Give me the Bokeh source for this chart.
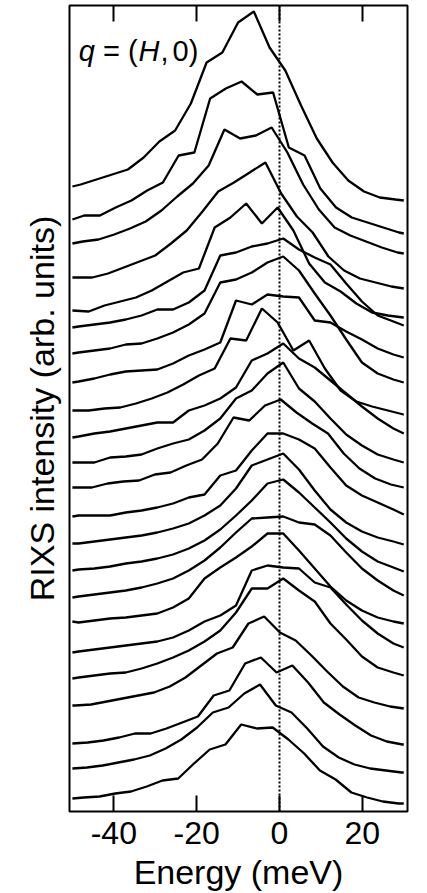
from bokeh.plotting import figure
from bokeh.models import Range1d, FixedTicker, LinearAxis, Span, Label, Title, CustomLabelingPolicy
from bokeh.embed import file_html
from bokeh.resources import INLINE

# Energy loss grid (meV) of the spectra; each spectrum has its own small energy offset.
energy_grid = [-47.5, -43.7, -39.9, -36.1, -32.3, -28.5, -24.7, -20.9, -17.1, -13.3, -9.5,
               -5.7, -1.9, 1.9, 5.7, 9.5, 13.3, 17.1, 20.9, 24.7, 28.5]
e_min, e_max = -50.0, 30.0
energy_ticks = [-40, -20, 0, 20]
tick_labels = {-40: "-40", -20: "-20", 0: "0", 20: "20"}

# per-spectrum energy offsets (meV), top spectrum first
shifts = [-0.5, 0.35, 0.0, -1.5, 1.45, -1.0, -1.0, -1.0, 1.45, -1.0, -1.0, -1.6,
          -1.0, -1.0, -1.0, -1.0, -1.0, -1.0, -1.0, -1.8, 1.2, 1.0, 0.25]

# RIXS intensity (arb. units, vertically offset), values at e_min, grid, e_max
s01 = [625, 627, 632, 637, 642, 654, 670, 681, 708, 749, 759, 789, 800, 764, 741, 706, 673, 649, 631, 620, 614, 612, 611]
s02 = [592, 596, 596, 604, 611, 621, 629, 656, 659, 713, 723, 730, 717, 719, 664, 656, 623, 604, 594, 589, 584, 579, 578]
s03 = [568, 570, 572, 577, 583, 590, 601, 615, 628, 646, 682, 673, 676, 684, 659, 627, 602, 584, 576, 570, 564, 559, 558]
s04 = [534, 534, 534, 538, 544, 550, 556, 568, 581, 600, 620, 629, 639, 649, 618, 595, 579, 555, 541, 533, 529, 525, 523]
s05 = [501, 500, 506, 510, 514, 521, 530, 539, 543, 584, 594, 608, 588, 604, 581, 548, 529, 520, 508, 499, 496, 494, 494]
s06 = [484, 485, 487, 489, 492, 496, 502, 502, 509, 521, 556, 559, 565, 568, 573, 562, 554, 547, 528, 510, 496, 490, 486]
s07 = [458, 459, 461, 463, 467, 468, 473, 479, 487, 498, 529, 532, 539, 549, 555, 541, 518, 496, 472, 449, 438, 432, 429]
s08 = [429, 430, 433, 437, 440, 441, 442, 448, 456, 462, 469, 511, 507, 517, 515, 514, 491, 489, 480, 472, 463, 457, 454]
s09 = [401, 401, 403, 404, 408, 413, 419, 427, 436, 443, 473, 471, 503, 489, 461, 471, 443, 421, 410, 405, 401, 397, 397]
s10 = [374, 375, 378, 380, 383, 386, 389, 389, 401, 406, 413, 424, 451, 458, 468, 453, 444, 431, 418, 405, 393, 383, 378]
s11 = [349, 349, 349, 354, 355, 357, 363, 368, 372, 381, 393, 413, 421, 438, 449, 423, 410, 393, 377, 366, 357, 352, 349]
s12 = [324, 324, 324, 328, 330, 331, 337, 339, 346, 352, 368, 394, 391, 406, 412, 399, 388, 378, 358, 343, 333, 327, 324]
s13 = [295, 296, 296, 296, 299, 301, 304, 308, 314, 317, 336, 341, 361, 378, 378, 372, 363, 344, 326, 316, 309, 302, 297]
s14 = [268, 268, 270, 272, 274, 276, 279, 283, 288, 296, 306, 323, 346, 352, 358, 342, 321, 302, 289, 280, 274, 270, 267]
s15 = [241, 242, 243, 245, 248, 250, 253, 257, 263, 271, 282, 296, 311, 328, 332, 319, 304, 289, 273, 260, 250, 244, 240]
s16 = [214, 215, 217, 219, 221, 224, 228, 233, 241, 251, 264, 279, 293, 294, 295, 289, 287, 276, 259, 243, 231, 221, 216]
s17 = [190, 189, 191, 193, 194, 196, 198, 204, 213, 233, 244, 254, 265, 278, 278, 261, 243, 225, 211, 201, 194, 190, 188]
s18 = [159, 160, 162, 164, 166, 168, 170, 174, 181, 190, 196, 206, 241, 246, 244, 243, 229, 224, 207, 191, 178, 168, 164]
s19 = [133, 134, 136, 138, 139, 143, 148, 154, 161, 170, 181, 199, 223, 223, 233, 221, 210, 188, 172, 155, 144, 139, 136]
s20 = [106, 106, 107, 110, 113, 116, 119, 125, 134, 146, 158, 164, 188, 195, 179, 171, 156, 140, 125, 114, 109, 105, 103]
s21 = [68, 69, 71, 74, 78, 78, 83, 89, 95, 116, 121, 148, 154, 139, 146, 129, 109, 97, 86, 76, 70, 67, 67]
s22 = [43, 44, 46, 49, 52, 56, 63, 72, 84, 99, 104, 118, 127, 106, 99, 83, 65, 54, 47, 43, 41, 39, 39]
s23 = [13, 14, 15, 18, 20, 25, 31, 33, 48, 62, 67, 87, 83, 84, 72, 58, 41, 32, 19, 14, 10, 8, 8]

spectra = [s01, s02, s03, s04, s05, s06, s07, s08, s09, s10, s11, s12,
           s13, s14, s15, s16, s17, s18, s19, s20, s21, s22, s23]

FONT = "Liberation Sans"

p = figure(width=415, height=893,
           x_range=Range1d(-50.7, 30.9), y_range=Range1d(0, 806),
           output_backend="svg", toolbar_location=None,
           min_border_left=69, min_border_right=8, min_border_top=5, min_border_bottom=82)

p.xgrid.grid_line_color = None
p.ygrid.grid_line_color = None
p.outline_line_color = "black"
p.outline_line_width = 2
p.background_fill_color = "white"
p.border_fill_color = "white"

for sh, s in zip(shifts, spectra):
    xs = [e_min] + [round(e + sh, 2) for e in energy_grid] + [e_max]
    p.line(xs, s, line_color="black", line_width=2.3)

p.add_layout(Span(location=0, dimension="height", line_color="black",
                  line_width=2, line_dash="2 2"))

# bottom axis
xa = p.xaxis[0]
xa.ticker = FixedTicker(ticks=energy_ticks)
xa.major_label_overrides = tick_labels
xa.major_tick_in = 16
xa.major_tick_out = 0
xa.minor_tick_in = 0
xa.minor_tick_out = 0
xa.major_tick_line_width = 2
xa.axis_line_color = None
xa.major_label_text_font = FONT
xa.major_label_text_font_size = "32px"
xa.major_label_text_color = "black"
xa.major_label_text_line_height = 1.0
xa.major_label_standoff = 10
xa.axis_label = "Energy (meV)"
xa.axis_label_text_font = FONT
xa.axis_label_text_font_size = "34px"
xa.axis_label_text_font_style = "normal"
xa.axis_label_text_color = "black"
xa.axis_label_text_line_height = 1.0
xa.axis_label_standoff = 6

# top mirror ticks (no labels)
ta = LinearAxis(ticker=FixedTicker(ticks=energy_ticks))
ta.major_tick_in = 16
ta.major_tick_out = 0
ta.minor_tick_in = 0
ta.minor_tick_out = 0
ta.major_tick_line_width = 2
ta.axis_line_color = None
ta.major_label_text_font_size = "2px"
ta.major_label_standoff = 0
ta.major_label_policy = CustomLabelingPolicy(
    code="const ids = [...indices]; for (const i of ids) { indices.unset(i) } return indices")
p.add_layout(ta, "above")

# left axis: no ticks; its title is a left-side title
ya = p.yaxis[0]
ya.ticker = FixedTicker(ticks=[])
ya.major_tick_in = 0
ya.major_tick_out = 0
ya.minor_tick_in = 0
ya.minor_tick_out = 0
ya.axis_line_color = None
ya.major_label_standoff = 0

p.add_layout(Title(text="RIXS intensity (arb. units)", align="center", offset=27, standoff=18,
                   text_font=FONT, text_font_size="34px", text_font_style="normal",
                   text_color="black"), "left")

# q = (H, 0) annotation, with italic q and H
qparts = [("q", "italic", -48.45), ("=", "normal", -42.61), ("(", "normal", -36.58),
          ("H", "italic", -34.04), (",", "normal", -28.73), ("0)", "normal", -25.83)]
for txt, style, xpos in qparts:
    p.add_layout(Label(x=xpos, y=761, text=txt, text_font=FONT, text_font_size="29px",
                       text_font_style=style, text_color="black",
                       text_baseline="alphabetic", text_align="left"))

open("out.html", "w").write(file_html(p, INLINE))
